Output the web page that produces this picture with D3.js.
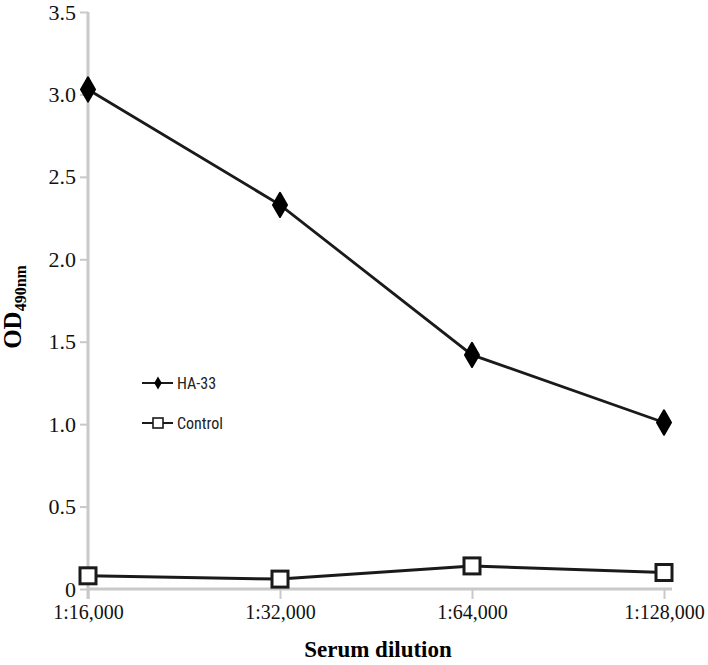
<!DOCTYPE html>
<html>
<head>
<meta charset="utf-8">
<script src="https://cdn.jsdelivr.net/npm/d3@7"></script>
<style>
  body { margin: 0; background: #fff; }
  svg { display: block; }
</style>
</head>
<body>
<script>
// values
const dilutions = ['1:16,000', '1:32,000', '1:64,000', '1:128,000'];
const ha33 = [3.03, 2.33, 1.42, 1.01];
const control = [0.08, 0.06, 0.14, 0.10];
const yTicks = [0, 0.5, 1.0, 1.5, 2.0, 2.5, 3.0, 3.5];

const width = 708, height = 665;
const margin = {left: 88, top: 12, right: 44, bottom: 76};

let svg = d3.select('body').append('svg')
    .attr('width', width)
    .attr('height', height);

let x = d3.scalePoint()
    .domain(dilutions)
    .range([margin.left, width - margin.right]);

let y = d3.scaleLinear()
    .domain([0, 3.5])
    .range([height - margin.bottom, margin.top]);

const axisGrey = '#c9c9c9';
const serif = 'Liberation Serif, Times New Roman, serif';

// y axis
let yAxis = svg.append('g')
    .attr('transform', 'translate(' + margin.left + ',0)')
    .call(d3.axisLeft(y).tickValues(yTicks).tickSize(8).tickPadding(4)
        .tickFormat(d => d === 0 ? '0' : d3.format('.1f')(d)))
    .attr('font-family', serif)
    .attr('font-size', 22);
yAxis.select('.domain')
    .attr('stroke', axisGrey)
    .attr('stroke-width', 3)
    .attr('d', 'M0,' + margin.top + 'V' + (y(0) + 10));
yAxis.selectAll('.tick line').attr('stroke', axisGrey).attr('stroke-width', 2);
yAxis.selectAll('.tick text').attr('fill', '#111');

// x axis
let xAxis = svg.append('g')
    .attr('transform', 'translate(0,' + y(0) + ')')
    .call(d3.axisBottom(x).tickSize(10).tickPadding(6))
    .attr('font-family', serif)
    .attr('font-size', 20);
xAxis.select('.domain')
    .attr('stroke', axisGrey)
    .attr('stroke-width', 3)
    .attr('d', 'M' + margin.left + ',0H' + (x(dilutions[3]) + 8));
xAxis.selectAll('.tick line').attr('stroke', axisGrey).attr('stroke-width', 2);
xAxis.selectAll('.tick text').attr('fill', '#111');

// axis titles
svg.append('text')
    .attr('x', 378)
    .attr('y', 657)
    .attr('text-anchor', 'middle')
    .attr('font-family', serif)
    .attr('font-weight', 'bold')
    .attr('font-size', 23)
    .text('Serum dilution');

let yTitle = svg.append('text')
    .attr('transform', 'translate(21,307) rotate(-90)')
    .attr('text-anchor', 'middle')
    .attr('font-family', serif)
    .attr('font-weight', 'bold')
    .attr('font-size', 25);
yTitle.append('tspan').text('OD');
yTitle.append('tspan')
    .attr('dy', 5)
    .attr('font-size', 16)
    .text('490nm');

// lines
let line = d3.line()
    .x((d, i) => x(dilutions[i]))
    .y(d => y(d));

svg.append('path')
    .datum(ha33)
    .attr('fill', 'none')
    .attr('stroke', '#1a1a1a')
    .attr('stroke-width', 2.8)
    .attr('d', line);

svg.append('path')
    .datum(control)
    .attr('fill', 'none')
    .attr('stroke', '#1a1a1a')
    .attr('stroke-width', 3)
    .attr('d', line);

// markers
let diamond = d3.symbol().type(d3.symbolDiamond).size(170);

svg.selectAll('.ha')
    .data(ha33)
    .enter()
    .append('path')
    .attr('class', 'ha')
    .attr('transform', (d, i) => 'translate(' + x(dilutions[i]) + ',' + y(d) + ')')
    .attr('d', diamond)
    .attr('fill', '#000')
    .attr('stroke', '#000')
    .attr('stroke-width', 2)
    .attr('stroke-linejoin', 'round');

svg.selectAll('.ctrl')
    .data(control)
    .enter()
    .append('rect')
    .attr('class', 'ctrl')
    .attr('x', (d, i) => x(dilutions[i]) - 8)
    .attr('y', d => y(d) - 8)
    .attr('width', 16)
    .attr('height', 16)
    .attr('fill', '#fff')
    .attr('stroke', '#1a1a1a')
    .attr('stroke-width', 3);

// legend
const legendFont = 'Liberation Sans Narrow, Roboto Condensed, Open Sans, sans-serif';
let legend = svg.append('g').attr('transform', 'translate(142,383)');

legend.append('line')
    .attr('x1', 0).attr('x2', 31).attr('y1', 0).attr('y2', 0)
    .attr('stroke', '#1a1a1a').attr('stroke-width', 2);
legend.append('path')
    .attr('transform', 'translate(16,0)')
    .attr('d', d3.symbol().type(d3.symbolDiamond).size(50))
    .attr('fill', '#000');
legend.append('text')
    .attr('x', 35).attr('y', 6)
    .attr('font-family', legendFont)
    .attr('font-size', 16)
    .attr('fill', '#222')
    .text('HA-33');

legend.append('line')
    .attr('x1', 0).attr('x2', 31).attr('y1', 40).attr('y2', 40)
    .attr('stroke', '#1a1a1a').attr('stroke-width', 2);
legend.append('rect')
    .attr('x', 11).attr('y', 35).attr('width', 10).attr('height', 10)
    .attr('fill', '#fff').attr('stroke', '#1a1a1a').attr('stroke-width', 1.6);
legend.append('text')
    .attr('x', 35).attr('y', 46)
    .attr('font-family', legendFont)
    .attr('font-size', 16)
    .attr('fill', '#222')
    .text('Control');
</script>
</body>
</html>
